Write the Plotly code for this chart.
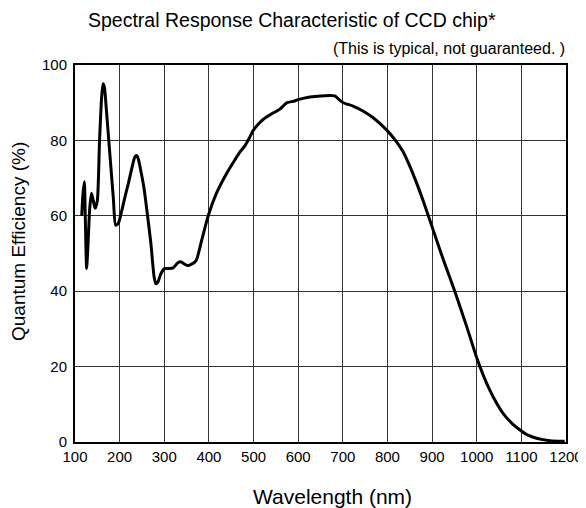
import plotly.graph_objects as go

wavelength = [115, 118, 121, 123, 126, 129, 133, 137, 141, 145, 150, 155, 160, 163, 166, 170, 175, 181, 186, 191,
              197, 205, 212, 220, 228, 234, 238, 242, 249, 255, 261, 270, 277, 281, 286, 292, 300, 310, 320, 330,
              337, 345, 352, 358, 365, 372, 384, 399, 417, 440, 458, 470, 481, 490, 499, 510, 522,
              540, 559, 575, 590, 600, 626, 650, 682, 690, 701, 723, 745, 768, 798, 820, 835, 850, 865, 880, 895,
              910, 925, 951, 977, 1001, 1015, 1029, 1045, 1059, 1080, 1097, 1115, 1134, 1164, 1197]
efficiency = [60, 66, 69, 60, 46, 52, 62, 66, 64, 62, 64, 80, 92, 95, 94, 88.5, 81, 72, 64.5, 57.5,
              58, 61.5, 65, 68.8, 73, 75.6, 76, 75, 71, 67, 61.5, 52.7, 44, 42, 42.5, 44.5, 46, 46, 46.2, 47.5,
              47.8, 47.2, 46.8, 47, 47.4, 48.3, 53.6, 60.2, 66, 71.3, 74.8, 77, 78.6, 80.5, 82.6, 84.2, 85.6,
              87, 88.3, 90, 90.4, 90.8, 91.5, 91.8, 91.8, 91, 90, 89.1, 87.8, 86, 82.8, 79.7, 77, 73.2, 68.8, 64, 58.8,
              53.6, 48.4, 39.9, 30.8, 22, 17.6, 13.8, 10.2, 7.6, 4.8, 3.2, 1.8, 1.0, 0.35, 0.2]

x_ticks = [100, 200, 300, 400, 500, 600, 700, 800, 900, 1000, 1100, 1200]
y_ticks = [0, 20, 40, 60, 80, 100]

title_text = "Spectral Response Characteristic of CCD chip*"
subtitle_text = "(This is typical, not guaranteed. )"
x_title = "Wavelength (nm)"
y_title = "Quantum Efficiency (%)"

FONT = "Liberation Sans, Arial, sans-serif"

fig = go.Figure()
fig.add_trace(go.Scatter(
    x=wavelength, y=efficiency, mode="lines",
    line=dict(color="black", width=3, shape="spline", smoothing=0.6),
    showlegend=False, hoverinfo="x+y",
))

# The page body has an 8px margin, so figure coords = page coords - 8.
OFF = 8
W, H = 586, 508
L, T = 75 - OFF, 65 - OFF
R = W - (566 - OFF)
B = H - (442 - OFF)
pw, ph = W - L - R, H - T - B

def page_to_paper(xp, yp):
    return (xp - OFF - L) / pw, (H - B - (yp - OFF)) / ph

annotations = []
x0, y0 = page_to_paper(86, 19.5)
annotations.append(dict(text=title_text, x=x0, y=y0, xref="paper", yref="paper",
                        xanchor="left", yanchor="middle", showarrow=False,
                        font=dict(size=19.5, color="black", family=FONT)))
x1, y1 = page_to_paper(567, 49)
annotations.append(dict(text=subtitle_text, x=x1, y=y1, xref="paper", yref="paper",
                        xanchor="right", yanchor="middle", showarrow=False,
                        font=dict(size=16, color="black", family=FONT)))
x2, y2 = page_to_paper(332, 496)
annotations.append(dict(text=x_title, x=x2, y=y2, xref="paper", yref="paper",
                        xanchor="center", yanchor="middle", showarrow=False,
                        font=dict(size=21, color="black", family=FONT)))
x3, y3 = page_to_paper(19, 242)
annotations.append(dict(text=y_title, x=x3, y=y3, xref="paper", yref="paper",
                        xanchor="center", yanchor="middle", showarrow=False, textangle=-90,
                        font=dict(size=19, color="black", family=FONT)))

fig.update_layout(
    width=W, height=H,
    margin=dict(l=L, r=R, t=T, b=B),
    paper_bgcolor="white", plot_bgcolor="white",
    font=dict(family=FONT, color="black", size=15),
    annotations=annotations,
    xaxis=dict(range=[100, 1200], tickvals=x_ticks, ticktext=[str(v) for v in x_ticks],
               showgrid=True, gridcolor="#333333", gridwidth=1,
               showline=True, linecolor="black", linewidth=2, mirror=True,
               ticks="", zeroline=False, tickfont=dict(size=15, color="black")),
    yaxis=dict(range=[0, 100], tickvals=y_ticks, ticktext=[str(v) for v in y_ticks],
               showgrid=True, gridcolor="#333333", gridwidth=1,
               showline=True, linecolor="black", linewidth=2, mirror=True,
               ticks="", zeroline=False, ticklabelstandoff=3,
               tickfont=dict(size=15, color="black")),
)

fig.write_html("out.html")
